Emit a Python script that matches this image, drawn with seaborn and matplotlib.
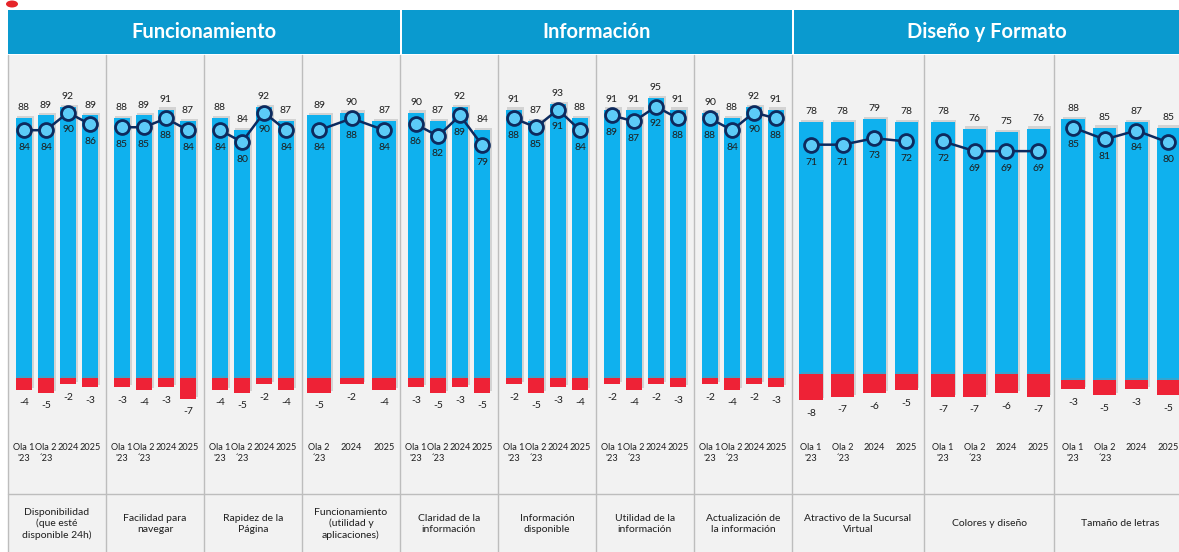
import matplotlib
matplotlib.use("Agg")
import matplotlib.pyplot as plt
import matplotlib.patheffects as pe
from matplotlib.patches import Rectangle, Ellipse
from matplotlib.lines import Line2D
import seaborn as sns
import pandas as pd

sns.set_theme(style="white")
plt.rcParams['font.family'] = ['Lato', 'DejaVu Sans']

# ---------------- data ----------------
groups = ["Funcionamiento", "Información", "Diseño y Formato"]
group_panel_counts = [4, 4, 3]

attributes = [
    "Disponibilidad\n(que esté\ndisponible 24h)",
    "Facilidad para\nnavegar",
    "Rapidez de la\nPágina",
    "Funcionamiento\n(utilidad y\naplicaciones)",
    "Claridad de la\ninformación",
    "Información\ndisponible",
    "Utilidad de la\ninformación",
    "Actualización de\nla información",
    "Atractivo de la Sucursal\nVirtual",
    "Colores y diseño",
    "Tamaño de letras",
]

periods_4 = ["Ola 1\n'23", "Ola 2\n´23", "2024", "2025"]
periods_3 = ["Ola 2\n´23", "2024", "2025"]
panel_periods = [periods_4, periods_4, periods_4, periods_3,
                 periods_4, periods_4, periods_4, periods_4,
                 periods_4, periods_4, periods_4]

top_box = [
    [88, 89, 92, 89],
    [88, 89, 91, 87],
    [88, 84, 92, 87],
    [89, 90, 87],
    [90, 87, 92, 84],
    [91, 87, 93, 88],
    [91, 91, 95, 91],
    [90, 88, 92, 91],
    [78, 78, 79, 78],
    [78, 76, 75, 76],
    [88, 85, 87, 85],
]
line_vals = [
    [84, 84, 90, 86],
    [85, 85, 88, 84],
    [84, 80, 90, 84],
    [84, 88, 84],
    [86, 82, 89, 79],
    [88, 85, 91, 84],
    [89, 87, 92, 88],
    [88, 84, 90, 88],
    [71, 71, 73, 72],
    [72, 69, 69, 69],
    [85, 81, 84, 80],
]
bottom_box = [
    [-4, -5, -2, -3],
    [-3, -4, -3, -7],
    [-4, -5, -2, -4],
    [-5, -2, -4],
    [-3, -5, -3, -5],
    [-2, -5, -3, -4],
    [-2, -4, -2, -3],
    [-2, -4, -2, -3],
    [-8, -7, -6, -5],
    [-7, -7, -6, -7],
    [-3, -5, -3, -5],
]

# ---------------- style / layout ----------------
W, H = 1179, 552
BLUE = "#0FB1EE"
RED = "#EE2236"
NAVY = "#0D2A5E"
MARKER_FACE = "#5CCBF7"
HEADER = "#0A9ACF"
PANEL_BG = "#F2F2F2"
SEP = "#BDBDBD"
TXT = "#1E1E1E"

panel_edges = [8, 106, 204, 302, 400, 498, 596, 694, 792, 924, 1054, 1186]
group_spans = [(8, 400), (402, 792), (794, 1185)]
ax_top, ax_bottom = 55, 439
# (baseline pixel row, pixels per unit) for each panel
panel_scale = [(378, 2.95)] * 8 + [(374, 3.23), (374, 3.23), (380, 2.97)]

fig = plt.figure(figsize=(W / 100, H / 100), dpi=100)
fig.patch.set_facecolor("white")


def fx(px):
    return px / W


def fy(py):
    return 1 - py / H


# backgrounds
fig.add_artist(Rectangle((fx(8), 0), fx(W - 8), fy(55), transform=fig.transFigure,
                         facecolor=PANEL_BG, edgecolor="none", zorder=0))
for (g0, g1), name in zip(group_spans, groups):
    fig.add_artist(Rectangle((fx(g0), fy(54)), fx(g1 - g0), fy(10) - fy(54),
                             transform=fig.transFigure, facecolor=HEADER,
                             edgecolor="none", zorder=1))
    fig.text(fx((g0 + min(g1, W)) / 2), fy(32), name, ha="center", va="center",
             color="white", fontsize=14.5, fontweight="bold", zorder=3)
fig.add_artist(Ellipse((fx(12), fy(4)), fx(12), fy(0) - fy(7), transform=fig.transFigure,
                       facecolor="#E5252A", edgecolor="none", zorder=2))

# separators
for x in panel_edges[:-1]:
    fig.add_artist(Line2D([fx(x), fx(x)], [fy(55), 0], transform=fig.transFigure,
                          color=SEP, lw=1.0, zorder=2))
fig.add_artist(Line2D([fx(8), 1], [fy(494), fy(494)], transform=fig.transFigure,
                      color=SEP, lw=1.0, zorder=2))

shadow = [pe.SimplePatchShadow(offset=(1.2, 1.5), shadow_rgbFace="#8C8C8C", alpha=0.3),
          pe.Normal()]

for i in range(len(attributes)):
    left, right = panel_edges[i], panel_edges[i + 1]
    wpx = right - left
    periods = panel_periods[i]
    n = len(periods)
    if n == 3:
        spacing, first, bw = 32.7, 17, 0.73
    elif wpx < 110:
        spacing, first, bw = 22.0, 16, 0.77
    else:
        spacing, first, bw = 31.7, 19, 0.73
    base, ppu = panel_scale[i]

    ax = fig.add_axes([fx(left), fy(ax_bottom), fx(wpx), fy(ax_top) - fy(ax_bottom)])
    ax.set_facecolor("none")

    df = pd.DataFrame({"period": periods, "top": top_box[i],
                       "line": line_vals[i], "bottom": bottom_box[i]})
    sns.barplot(data=df, x="period", y="top", order=periods, color=BLUE, saturation=1,
                width=bw, errorbar=None, ax=ax, zorder=2, linewidth=0, edgecolor="none")
    sns.barplot(data=df, x="period", y="bottom", order=periods, color=RED, saturation=1,
                width=bw, errorbar=None, ax=ax, zorder=2, linewidth=0, edgecolor="none")
    for p in ax.patches:
        p.set_linewidth(0)
        p.set_edgecolor("none")
        p.set_path_effects(shadow)
    sns.pointplot(data=df, x="period", y="line", order=periods, color=NAVY,
                  errorbar=None, markers="o", ax=ax)
    for ln in ax.lines:
        ln.set_markerfacecolor(MARKER_FACE)
        ln.set_markeredgecolor(NAVY)
        ln.set_markersize(10)
        ln.set_markeredgewidth(2.0)
        ln.set_linewidth(1.8)
        ln.set_zorder(4)

    for j, per in enumerate(periods):
        ax.annotate(str(top_box[i][j]), (j, top_box[i][j]), xytext=(0, 7.5),
                    textcoords="offset points", ha="center", va="center",
                    fontsize=7.5, color=TXT, zorder=5)
        ax.annotate(str(line_vals[i][j]), (j, line_vals[i][j]), xytext=(0, -12.5),
                    textcoords="offset points", ha="center", va="center",
                    fontsize=7.5, color=TXT, zorder=5)
        ax.annotate(str(bottom_box[i][j]), (j, bottom_box[i][j]), xytext=(0, -9.5),
                    textcoords="offset points", ha="center", va="center",
                    fontsize=7.5, color=TXT, zorder=5)

    ax.set_xlim(-first / spacing, (wpx - first) / spacing)
    ax.set_ylim(-(ax_bottom - base) / ppu, (base - ax_top) / ppu)
    ax.set_xlabel("")
    ax.set_ylabel("")
    ax.set_yticks([])
    ax.tick_params(axis="x", length=0, pad=3, labelsize=6.6, labelcolor=TXT)
    for lab in ax.get_xticklabels():
        lab.set_linespacing(1.3)
    for s in ax.spines.values():
        s.set_visible(False)

    fig.text(fx((left + right) / 2), fy(524), attributes[i], ha="center", va="center",
             fontsize=7.5, color=TXT, linespacing=1.3)

fig.savefig("out.png", dpi=100)
